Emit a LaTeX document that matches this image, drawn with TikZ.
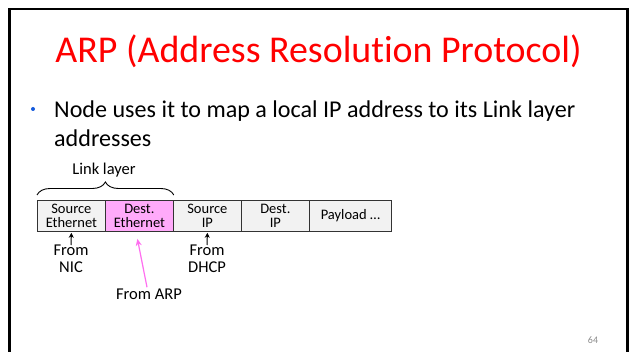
\documentclass[tikz,border=0pt]{standalone}
\usepackage{fontspec}
\setmainfont{Carlito}[Ligatures={NoCommon}]
\usetikzlibrary{arrows.meta,decorations.pathreplacing}
\definecolor{titlered}{RGB}{255,0,0}
\definecolor{boxgray}{RGB}{242,242,242}
\definecolor{boxpink}{RGB}{255,170,250}
\definecolor{arrowpink}{RGB}{255,110,240}
\definecolor{bulletblue}{RGB}{20,90,220}
\definecolor{pagegray}{RGB}{140,140,140}
\tikzset{
  field/.style={draw=black!80, line width=0.8pt, fill=boxgray, minimum height=31pt, inner sep=0pt, align=center, font=\fontsize{14.5}{14.5}\selectfont},
  lbl/.style={align=center, inner sep=0pt, font=\fontsize{16.5}{16.5}\selectfont},
  uparrow/.style={-{Stealth[length=5pt,width=5pt]}, line width=1pt},
}
\begin{document}
\begin{tikzpicture}[x=1pt,y=-1pt]
\useasboundingbox (0,0) rectangle (633,352);
\fill[white] (0,0) rectangle (633,352);
% slide frame (open at bottom)
\draw[line width=2.5pt] (9.5,353) -- (9.5,9) -- (627.5,9) -- (627.5,353);
% title
\node[anchor=base, inner sep=0pt, text=titlered, font=\fontsize{37.9}{40}\selectfont] (title) at (318.5,63) {ARP (Address Resolution Protocol)};
% bullet
\fill[bulletblue] (33,109) circle (2pt);
\node[anchor=base west, inner sep=0pt, font=\fontsize{24.1}{29}\selectfont] (b1) at (54,118) {Node uses it to map a local IP address to its Link layer};
\node[anchor=base west, inner sep=0pt, font=\fontsize{24.1}{29}\selectfont] (b2) at (54,147) {addresses};
% fields
\node[field, minimum width=68pt, anchor=north west] (se) at (37,200) {Source\\Ethernet};
\node[field, minimum width=68pt, anchor=north west, fill=boxpink] (de) at (105,200) {Dest.\\Ethernet};
\node[field, minimum width=68pt, anchor=north west] (si) at (173,200) {Source\\IP};
\node[field, minimum width=68pt, anchor=north west] (di) at (241,200) {Dest.\\IP};
\node[field, minimum width=82pt, anchor=north west] (pl) at (309,200) {Payload …};
% brace
\draw[line width=0.9pt, decorate, decoration={brace, amplitude=13pt}] ([yshift=5pt]se.north west) -- ([yshift=5pt]de.north east);
\node[lbl, anchor=base] (link) at (104,175) {Link layer};
% labels below
\node[lbl, anchor=north] (nic) at (71,245) {From\\NIC};
\node[lbl, anchor=north] (dhcp) at (207,245) {From\\DHCP};
\node[lbl, anchor=base] (arp) at (149,300) {From ARP};
% arrows
\draw[uparrow] (nic.north) -- ([yshift=-1pt]se.south);
\draw[uparrow] (dhcp.north) -- ([yshift=-1pt]si.south);
\draw[-{Stealth[length=7pt,width=6pt]}, line width=1.2pt, arrowpink] ([xshift=-2pt,yshift=2pt]arp.north) -- ([xshift=-2pt,yshift=-7pt]de.south);
% page number
\node[text=pagegray, font=\fontsize{10}{12}\selectfont] (pg) at (593,340) {64};
\end{tikzpicture}
\end{document}
